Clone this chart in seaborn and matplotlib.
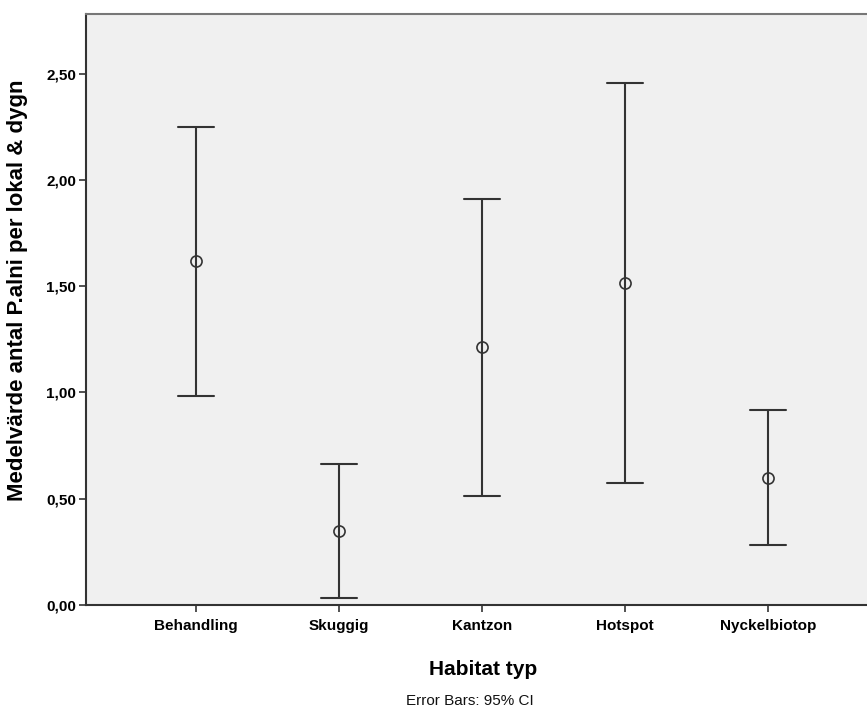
import pandas as pd
import matplotlib
matplotlib.use("Agg")
import matplotlib.pyplot as plt
import seaborn as sns

# Values (mean with 95% CI)
habitat = ["Behandling", "Skuggig", "Kantzon", "Hotspot", "Nyckelbiotop"]
mean = [1.616, 0.350, 1.213, 1.515, 0.599]
ci_low = [0.985, 0.034, 0.512, 0.573, 0.284]
ci_high = [2.250, 0.665, 1.911, 2.456, 0.918]
y_ticks = [0.0, 0.5, 1.0, 1.5, 2.0, 2.5]
y_ticklabels = ["0,00", "0,50", "1,00", "1,50", "2,00", "2,50"]

# long table: median of (low, mean, high) = mean, 100% interval = CI ends
d = pd.DataFrame({
    "habitat": habitat * 3,
    "value": ci_low + mean + ci_high,
})

sns.set_style("white")
plt.rcParams["font.family"] = ["Liberation Sans", "DejaVu Sans"]

fig = plt.figure(figsize=(8.67, 7.14), dpi=100)
ax = fig.add_axes([0.0988, 0.1527, 0.9012, 0.8277])
ax.set_facecolor("#f0f0f0")

sns.pointplot(data=d, x="habitat", y="value", order=habitat,
              estimator="median", errorbar=("pi", 100),
              linestyle="none", marker="o", markersize=8,
              markeredgewidth=1.2, color="#333333",
              capsize=0.25, err_kws={"linewidth": 1.5}, ax=ax)

for ln in ax.lines:
    ln.set_markerfacecolor("none")

ax.set_xlim(-0.773, 4.69)
ax.set_ylim(0, 2.78)
ax.set_yticks(y_ticks)
ax.set_yticklabels(y_ticklabels)

for s in ["left", "bottom", "top"]:
    ax.spines[s].set_visible(True)
    ax.spines[s].set_linewidth(1.5)
ax.spines["left"].set_color("#333333")
ax.spines["bottom"].set_color("#333333")
ax.spines["top"].set_color("#777777")
ax.spines["right"].set_visible(False)

ax.tick_params(axis="both", which="major", length=5, width=1.2,
               color="#333333", direction="out", left=True, bottom=True,
               labelcolor="black")
ax.tick_params(axis="x", pad=5)
ax.tick_params(axis="y", pad=2)
for t in ax.get_xticklabels() + ax.get_yticklabels():
    t.set_fontweight("bold")
    t.set_fontsize(11)

ax.set_xlabel("Habitat typ", fontsize=15, fontweight="bold", color="black")
ax.set_ylabel("Medelvärde antal P.alni per lokal & dygn", fontsize=16,
              fontweight="bold", color="black")
ax.xaxis.set_label_coords((483 - 86) / 781, -0.093)
ax.yaxis.set_label_coords((28 - 86) / 781, (605 - 290) / 591)

fig.text(470 / 867, 1 - 701 / 714, "Error Bars: 95% CI", ha="center",
         va="center", fontsize=11, color="#111111")

fig.savefig("out.png", dpi=100)
